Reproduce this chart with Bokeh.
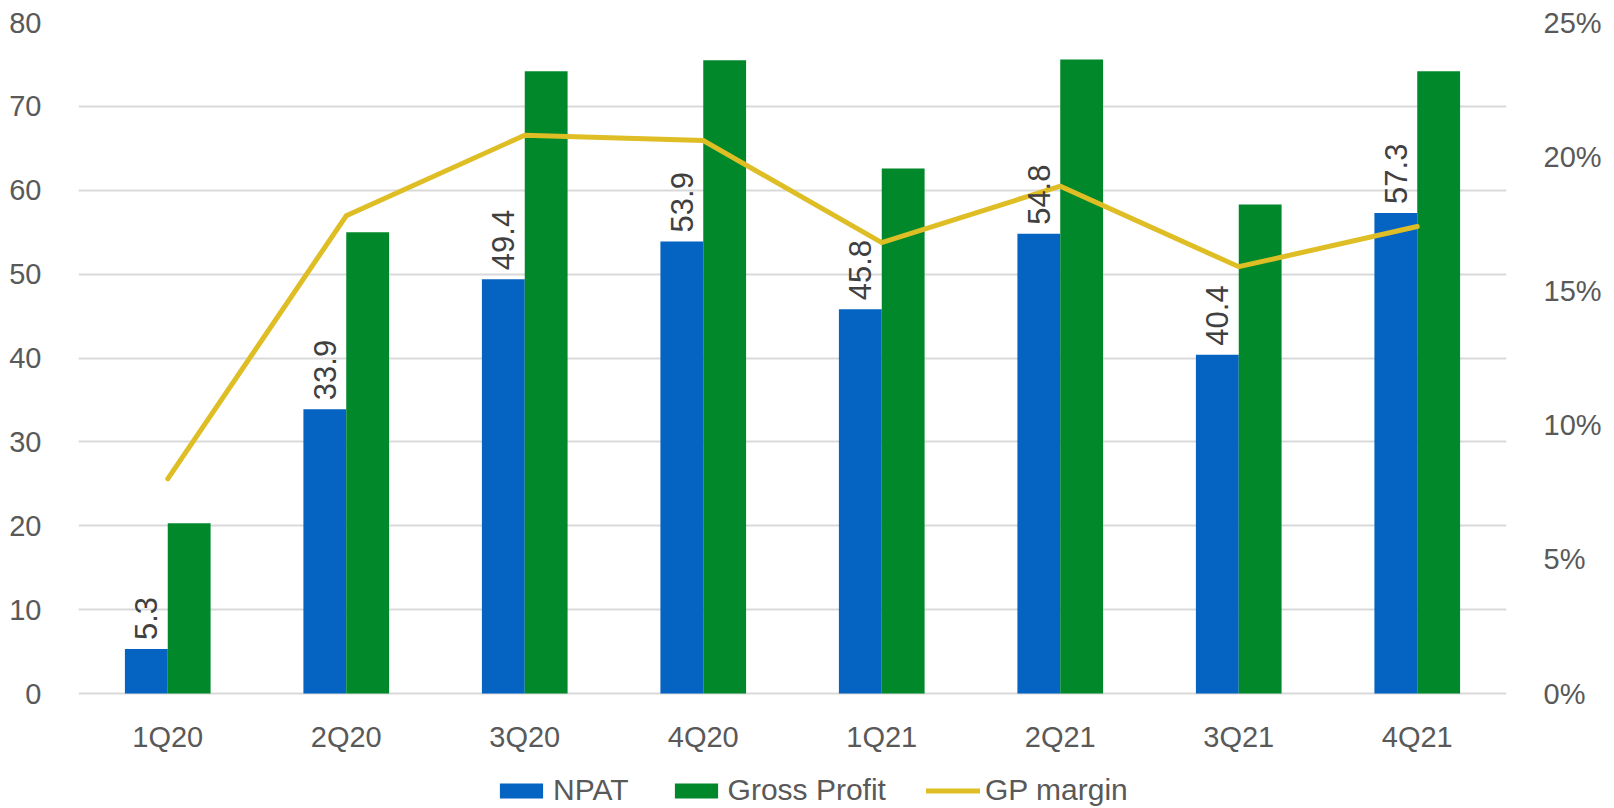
from bokeh.plotting import figure
from bokeh.models import (ColumnDataSource, FactorRange, Range1d, LinearAxis,
                          FixedTicker, PrintfTickFormatter, Legend, LegendItem)
from bokeh.transform import dodge
from bokeh.core.properties import value
from bokeh.embed import file_html
from bokeh.resources import INLINE
import math

quarters = ["1Q20", "2Q20", "3Q20", "4Q20", "1Q21", "2Q21", "3Q21", "4Q21"]
npat = [5.3, 33.9, 49.4, 53.9, 45.8, 54.8, 40.4, 57.3]
gross_profit = [20.3, 55.0, 74.2, 75.5, 62.6, 75.6, 58.3, 74.2]
gp_margin = [8.0, 17.8, 20.8, 20.6, 16.8, 18.9, 15.9, 17.4]  # percent
npat_labels = [f"{v:.1f}" for v in npat]

left_ticks = [0, 10, 20, 30, 40, 50, 60, 70, 80]
right_ticks = [0, 5, 10, 15, 20, 25]

BLUE = "#0563C1"
GREEN = "#00882B"
YELLOW = "#DEBE24"
FONT = "Liberation Sans"
AXIS_COLOR = "#595959"
AX_FS = "29px"

# plot band: value axis 0..80 occupies 671px; frame extends 115px below zero
# so the legend can sit inside the frame under the category labels
BAND = 671.0
BELOW = 115.0
left_min = -80 * BELOW / BAND
right_min = -25 * BELOW / BAND

src = ColumnDataSource(dict(q=quarters, npat=npat, gp=gross_profit,
                            gpm=gp_margin, lab=npat_labels))

p = figure(x_range=FactorRange(*quarters), y_range=Range1d(left_min, 80),
           frame_width=1428, frame_height=int(BAND + BELOW),
           min_border_left=78, min_border_right=108,
           min_border_top=22, min_border_bottom=0,
           toolbar_location=None, output_backend="svg")
p.extra_y_ranges = {"pct": Range1d(right_min, 25)}
p.outline_line_color = None
p.background_fill_color = "white"
p.border_fill_color = "white"

r_npat = p.vbar(x=dodge("q", -0.12, range=p.x_range), top="npat", bottom=0,
                width=0.24, source=src, fill_color=BLUE, line_color=None)
r_gp = p.vbar(x=dodge("q", 0.12, range=p.x_range), top="gp", bottom=0,
              width=0.24, source=src, fill_color=GREEN, line_color=None)
r_line = p.line(x="q", y="gpm", y_range_name="pct", source=src,
                line_color=YELLOW, line_width=5, line_cap="round", line_join="miter")

p.text(x=dodge("q", -0.12, range=p.x_range), y="npat", text="lab", source=src,
       angle=math.pi / 2, text_align="left", text_baseline="middle",
       y_offset=-9, text_font=value(FONT), text_font_size="31px",
       text_color="#404040")

# axes
p.yaxis.ticker = FixedTicker(ticks=left_ticks)
for ax in [p.yaxis[0], p.xaxis[0]]:
    ax.axis_line_color = None
    ax.major_tick_line_color = None
    ax.minor_tick_line_color = None
    ax.major_label_text_font = FONT
    ax.major_label_text_font_size = AX_FS
    ax.major_label_text_color = AXIS_COLOR
p.yaxis.major_label_standoff = 31
p.xaxis.major_label_standoff = 21
p.xaxis.fixed_location = 0

right = LinearAxis(y_range_name="pct", ticker=FixedTicker(ticks=right_ticks),
                   formatter=PrintfTickFormatter(format="%d%%"))
right.axis_line_color = None
right.major_tick_line_color = None
right.minor_tick_line_color = None
right.major_label_text_font = FONT
right.major_label_text_font_size = AX_FS
right.major_label_text_color = AXIS_COLOR
right.major_label_standoff = 31
p.add_layout(right, "right")

p.xgrid.grid_line_color = None
p.ygrid.grid_line_color = "#D9D9D9"
p.ygrid.grid_line_width = 2

legend = Legend(items=[LegendItem(label="NPAT", renderers=[r_npat]),
                       LegendItem(label="Gross Profit", renderers=[r_gp]),
                       LegendItem(label="GP margin", renderers=[r_line])],
                orientation="horizontal", location=(416, 1))
legend.glyph_width = 54
legend.glyph_height = 19
legend.label_standoff = 5
legend.label_height = 19
legend.spacing = 40
legend.padding = 0
legend.margin = 0
legend.label_text_font = FONT
legend.label_text_font_size = "30px"
legend.label_text_color = AXIS_COLOR
legend.border_line_color = None
legend.background_fill_alpha = 0
p.add_layout(legend, "center")

open("out.html", "w").write(file_html(p, INLINE))
